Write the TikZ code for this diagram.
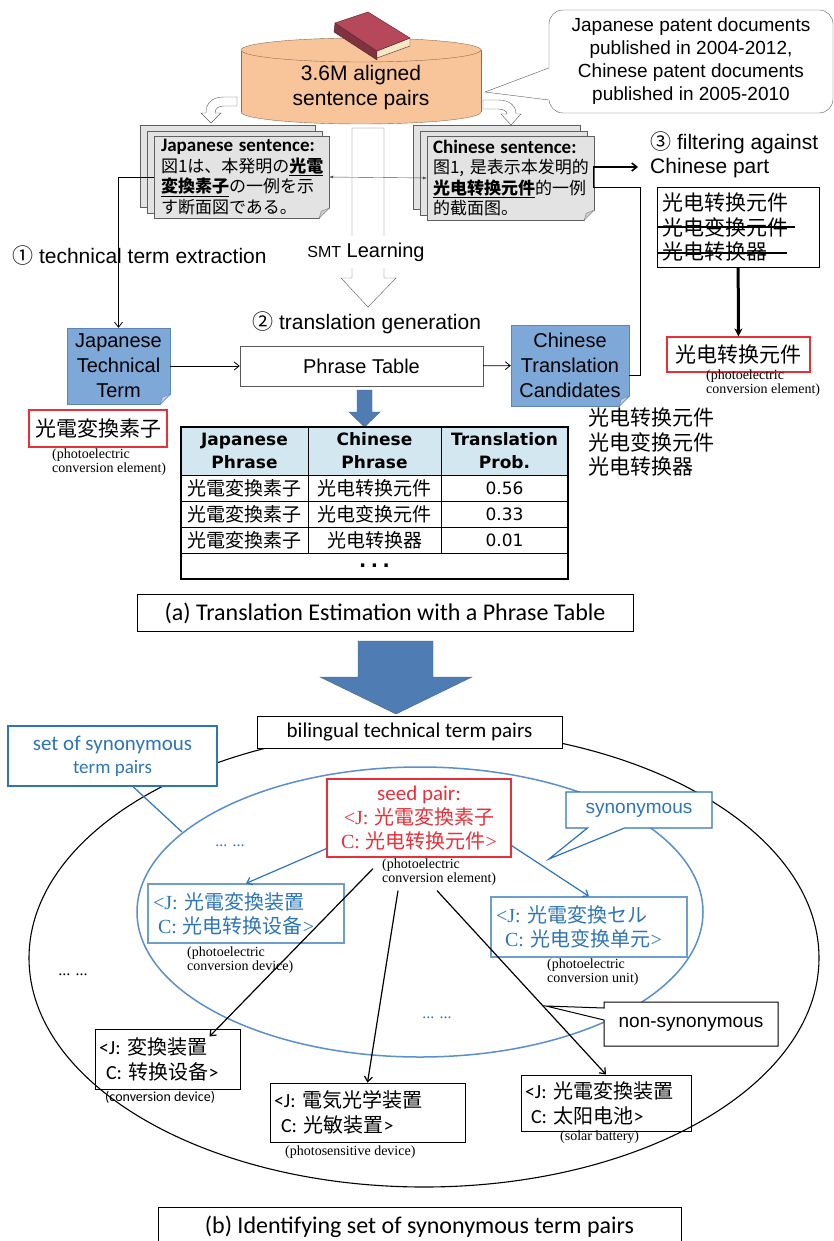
\documentclass[tikz,border=0pt]{standalone}
\usepackage{fontspec}
\setmainfont{Liberation Sans}
\newfontfamily\calfont{Carlito}
\newfontfamily\verfont{DejaVu Sans}
\newfontfamily\serfont{Liberation Serif}
\newfontfamily\jpfont{Noto Sans CJK JP}
\newfontfamily\scfont{Noto Sans CJK SC}
\usetikzlibrary{arrows.meta,shapes.callouts}
\definecolor{peach}{HTML}{F8C49A}
\definecolor{peachline}{HTML}{8C6E55}
\definecolor{sheetgray}{HTML}{E3E3E3}
\definecolor{termblue}{HTML}{7DA8D8}
\definecolor{termline}{HTML}{5E84B4}
\definecolor{steel}{HTML}{4F7DB3}
\definecolor{headblue}{HTML}{D2E7EF}
\definecolor{seedred}{HTML}{E8303A}
\definecolor{synblue}{HTML}{2E75B6}
\definecolor{ringblue}{HTML}{5B8FCC}
\definecolor{bookred}{HTML}{B5485A}
\definecolor{pagecream}{HTML}{F3E9C4}
\newcommand\fsz[2]{\fontsize{#1}{#2}\selectfont}
% folded corner on the south east of a node
\newcommand\dogear[2]{%
  \fill[white] ([xshift=-10pt,yshift=-1pt]#1.south east) -- ([xshift=1pt,yshift=-1pt]#1.south east)
    -- ([xshift=1pt,yshift=10pt]#1.south east) -- cycle;
  \filldraw[draw=#2,fill=#2!40] ([xshift=-10pt]#1.south east) -- ([yshift=10pt]#1.south east)
    -- ([xshift=-8pt,yshift=7pt]#1.south east) -- cycle;}

\begin{document}
\begin{tikzpicture}[x=1pt,y=-1pt,>={Straight Barb[length=5pt,width=8pt]},
  every node/.style={inner sep=0pt},
  sheetbox/.style={draw=gray!75!black,fill=sheetgray},
  termbox/.style={draw=termline,fill=termblue,align=center,font=\fsz{20}{25}},
  redbox/.style={draw=seedred,line width=1.2pt,fill=white},
  synbox/.style={draw=synblue!70,line width=1.2pt,align=left,text=synblue,font=\fsz{20}{24}},
  pairbox/.style={draw,line width=1pt,align=left,font=\fsz{20}{25}},
  gloss/.style={font=\serfont\fsz{14}{10},align=left,anchor=north west},
  hollow/.style={draw=gray!70!black,fill=white},
  block/.style={fill=steel,draw=steel!80!black},
  link/.style={->,line width=1.2pt}]
  \useasboundingbox (0,0) rectangle (833,1241);

  % corpus cylinder with the book on top
  \filldraw[draw=peachline,fill=peach] (361,112) ellipse[x radius=120,y radius=12];
  \fill[peach] (241,50) rectangle (481,112);
  \draw[peachline] (241,50) -- (241,112) (481,50) -- (481,112);
  \filldraw[draw=peachline,fill=peach] (361,50) ellipse[x radius=120,y radius=12];
  \filldraw[draw=bookred!50!black,fill=bookred!70!black] (335,23) -- (377,51) -- (377,60) -- (334,32) -- cycle;
  \filldraw[draw=bookred!50!black,fill=pagecream] (377,51) -- (410,38) -- (410,46) -- (377,58) -- cycle;
  \filldraw[draw=bookred!50!black,fill=bookred] (335,23) -- (368,12) -- (410,38) -- (377,51) -- cycle;
  \node[font=\fsz{21}{25},align=center] (corpus) at (361,88) {3.6M aligned\\sentence pairs};

  % where the corpus comes from
  \node[draw=gray!70!black,fill=white,rounded corners=14pt,minimum width=284pt,minimum height=103pt,
    align=center,font=\fsz{19}{23}] (pub) at (691,61.5)
    {Japanese patent documents\\published in 2004-2012,\\Chinese patent documents\\published in 2005-2010};
  \coordinate (pubtip) at (485,92);
  \fill[white] ([shift={(2,6.5)}]pub.west) -- (pubtip) -- ([shift={(2,38.5)}]pub.west) -- cycle;
  \draw[gray!70!black] ([shift={(0,6.5)}]pub.west) -- (pubtip) -- ([shift={(0,38.5)}]pub.west);

  % bent hollow arrows down to the two sides
  \draw[hollow] (237,97) -- (224,97) .. controls (212,97) and (206,103) .. (206,113) -- (201,113)
    -- (211,123) -- (221,113) -- (215,113) .. controls (215,108) and (219,106) .. (224,106) -- (237,106) -- cycle;
  \draw[hollow] (483,100) -- (498,100) .. controls (510,100) and (516,106) .. (516,114) -- (521,114)
    -- (511,125) -- (501,114) -- (507,114) .. controls (507,111) and (503,109) .. (498,109) -- (483,109) -- cycle;

  % sentence stacks
  \draw[sheetbox] (140,125) rectangle (315,207);
  \draw[sheetbox] (147,131) rectangle (322,213);
  \node[sheetbox,minimum width=175pt,minimum height=82pt,text width=161pt,align=left,
    font=\jpfont\fsz{17}{20.5}] (jsent) at (241.5,177)
    {{\calfont\bfseries\fsz{19}{20.5}Japanese sentence:}\\
     図1は、本発明の\underline{\textbf{光電}}\\
     \underline{\textbf{変換素子}}の一例を示\\
     す断面図である。};
  \dogear{jsent}{gray}
  \draw[sheetbox] (413,125) rectangle (580,209);
  \draw[sheetbox] (420,131) rectangle (587,215);
  \node[sheetbox,minimum width=167pt,minimum height=84pt,text width=155pt,align=left,
    font=\scfont\fsz{17}{20.5}] (csent) at (510.5,178)
    {{\calfont\bfseries\fsz{19}{20.5}Chinese sentence:}\\
     \mbox{图1, 是表示本发明的}\\
     \underline{\textbf{光电转换元件}}的一例\\
     的截面图。};
  \dogear{csent}{gray}

  % SMT learning
  \draw[hollow] (352,128) -- (384,128) -- (384,278) -- (396,278) -- (368,307) -- (341,278) -- (352,278) -- cycle;
  \node[fill=white,minimum height=32pt,font=\fsz{20}{24}] (smt) at (366,252) {{\fsz{16}{20}SMT} Learning};
  \draw[<->,gray!60!black,>={Latex[length=4pt,width=3pt]}] (jsent.east) -- (csent.west);

  % steps 1 and 2
  \node[anchor=west,font=\fsz{21}{25}] (step1) at (12,256) {{\jpfont ①} technical term extraction};
  \node[termbox,minimum width=103pt,minimum height=76pt] (jtt) at (118.5,366) {Japanese\\Technical\\Term};
  \dogear{jtt}{termline}
  \draw[->,line width=0.8pt] (jsent.west) -| (jtt.north);
  \node[anchor=west,font=\fsz{21}{25}] (step2) at (252,323) {{\jpfont ②} translation generation};
  \node[draw=gray!70!black,fill=white,minimum width=243pt,minimum height=40pt,font=\fsz{20}{24}]
    (ptable) at (361.5,366) {Phrase Table};
  \node[termbox,minimum width=118pt,minimum height=81pt] (ctc) at (570,365.5) {Chinese\\Translation\\Candidates};
  \dogear{ctc}{termline}
  \draw[->,line width=0.8pt] (jtt) -- (ptable);
  \draw[->,line width=0.8pt] (ptable) -- (ctc);

  % step 3
  \node[anchor=west,align=left,font=\fsz{21}{24}] (step3) at (650,155) {{\jpfont ③} filtering against\\Chinese part};
  \coordinate (filtin) at (638,167);
  \draw[line width=0.8pt] ([shift={(0,9.5)}]ctc.east) -| (640,187) -- (593,187) -- (593,167);
  \draw[->,line width=1.6pt] (593,167) -- (filtin);
  \node[draw,line width=1pt,minimum width=162pt,minimum height=79pt,text width=152pt,align=left,
    font=\scfont\fsz{21}{24.5}] (fbox) at (738,227.5) {光电转换元件\\光电变换元件\\光电转换器};
  \draw[line width=1.5pt] (657,227) -- (795,227);
  \draw[line width=1.2pt] (657,253) -- (787,253);
  \node[redbox,minimum width=143pt,minimum height=35pt,font=\scfont\fsz{21}{25}] (cbest) at (738.5,354.5) {光电转换元件};
  \draw[->,line width=3pt,>={Stealth[length=8pt,width=8pt]}] (fbox) -- (cbest);
  \node[gloss] (cbestgl) at (706,370) {(photoelectric\\conversion element)};
  \node[anchor=north west,align=left,font=\scfont\fsz{21}{24.5}] (cands) at (588,408) {光电转换元件\\光电变换元件\\光电转换器};
  \node[redbox,minimum width=138pt,minimum height=37pt,font=\jpfont\fsz{21}{25}] (jbest) at (98,428.5) {光電変換素子};
  \node[gloss] (jbestgl) at (52,449) {(photoelectric\\conversion element)};

  % phrase table
  \fill[block] (357,390) -- (372,390) -- (372,412) -- (380,412) -- (364.5,427) -- (349,412) -- (357,412) -- cycle;
  \fill[headblue] (181,427) rectangle (568,475);
  \foreach \y in {475,501,527,553} \draw (181,\y) -- (568,\y);
  \foreach \x in {308,441} \draw (\x,427) -- (\x,553);
  \draw[line width=2pt] (181,427) rectangle (568,579);
  \node[font=\verfont\bfseries\fsz{17}{23},align=center] (hjp) at (244.5,451) {Japanese\\Phrase};
  \node[font=\verfont\bfseries\fsz{17}{23},align=center] (hzh) at (374.5,451) {Chinese\\Phrase};
  \node[font=\verfont\bfseries\fsz{17}{23},align=center] (hpr) at (504.5,451) {Translation\\Prob.};
  \foreach \zh/\p [count=\i] in {光电转换元件/0.56,光电变换元件/0.33,光电转换器/0.01}{
    \node[font=\jpfont\fsz{19}{22}] at (244.5,462+26*\i) {光電変換素子};
    \node[font=\scfont\fsz{19}{22}] at (374.5,462+26*\i) {\zh};
    \node[font=\verfont\fsz{17}{22}] at (504.5,462+26*\i) {\p};
  }
  \node[font=\verfont\bfseries\fsz{19}{20}] (more) at (374.5,566) {.\hspace{4.5pt}.\hspace{4.5pt}.};
  \node[draw,line width=1pt,minimum width=496pt,minimum height=37pt,font=\calfont\fsz{24}{28}]
    (capa) at (385,613) {(a) Translation Estimation with a Phrase Table};
  \fill[block] (358,641) -- (433,641) -- (433,677) -- (472,677) -- (396,714) -- (320,677) -- (358,677) -- cycle;

  % term pairs and the synonym set
  \draw[line width=1.1pt] (424,958) ellipse[x radius=395,y radius=229];
  \draw[ringblue,line width=1.5pt] (420,912) ellipse[x radius=283,y radius=145];
  \node[draw,line width=1pt,fill=white,minimum width=305pt,minimum height=32pt,font=\calfont\fsz{21}{25}]
    (pairs) at (409.5,732) {bilingual technical term pairs};
  \node[draw=synblue,line width=1.2pt,fill=white,minimum width=209pt,minimum height=60pt,align=center,
    text=synblue,font=\calfont\fsz{21}{23}] (synset) at (112.5,756) {set of synonymous\\{\fsz{19}{23}term pairs}};
  \coordinate (ringpt) at (182,832);
  \draw[synblue,line width=1.2pt] ([xshift=20.5pt]synset.south) -- (ringpt);

  \node[redbox,minimum width=184pt,minimum height=78pt,align=center,text=seedred,font=\fsz{20}{24}] (seed) at (419,818)
    {{\calfont\fsz{21}{24}seed pair:}\\{\serfont <J:} {\jpfont 光電変換素子}\\ {\serfont C:} {\scfont 光电转换元件}{\serfont >}};
  \node[gloss] (seedgl) at (382,859) {(photoelectric\\conversion element)};

  \node[synbox,minimum width=196pt,minimum height=59pt,text width=186pt] (syn1) at (246,913.5)
    {{\serfont <J:} {\jpfont 光電変換装置}\\\hspace*{5pt}{\serfont C:}\hspace{6pt}{\scfont 光电转换设备}{\serfont >}};
  \node[gloss] (syn1gl) at (187,947) {(photoelectric\\conversion device)};
  \node[synbox,minimum width=196pt,minimum height=60pt,text width=186pt] (syn2) at (589,927)
    {{\serfont <J:} {\jpfont 光電変換セル}\\\hspace*{9pt}{\serfont C:} {\scfont 光电变换单元}{\serfont >}};
  \node[gloss] (syn2gl) at (547,959) {(photoelectric\\conversion unit)};
  \draw[link,synblue] ([yshift=9pt]seed.south west) -- (syn1.north);
  \draw[link,synblue] ([yshift=12pt]seed.south east) -- (syn2.north);

  \node[pairbox,minimum width=145pt,minimum height=60pt,text width=137pt] (pair1) at (167.5,1059)
    {{\calfont <J:} {\jpfont 変換装置}\\\hspace*{7pt}{\calfont C:} {\scfont 转换设备}{\calfont >}};
  \node[anchor=north west,font=\calfont\fsz{14}{16}] (pair1gl) at (105,1091) {(conversion device)};
  \node[pairbox,minimum width=195pt,minimum height=59pt,text width=187pt] (pair2) at (367.5,1112.5)
    {{\calfont <J:} {\jpfont 電気光学装置}\\\hspace*{7pt}{\calfont C:} {\scfont 光敏装置}{\calfont >}};
  \node[gloss] (pair2gl) at (285,1146) {(photosensitive device)};
  \node[pairbox,minimum width=170pt,minimum height=56pt,text width=162pt] (pair3) at (606,1103)
    {{\calfont <J:} {\jpfont 光電変換装置}\\\hspace*{6pt}{\calfont C:} {\scfont 太阳电池}{\calfont >}};
  \node[gloss] (pair3gl) at (560,1131) {(solar battery)};
  \draw[link] ([shift={(-46,11)}]seed.south) -- ([shift={(42,8)}]pair1.north);
  \draw[link] ([shift={(-21,33)}]seed.south) -- (pair2.north);
  \draw[link] ([shift={(18,33)}]seed.south) -- (pair3.north);

  \node[rectangle callout,draw=synblue,line width=1.2pt,fill=white,text=synblue,minimum width=146pt,
    minimum height=36pt,callout absolute pointer={(549,859)},callout pointer width=37pt,font=\fsz{19}{23}]
    (synlbl) at (639,810) {synonymous};
  \node[rectangle callout,draw,line width=1pt,fill=white,minimum width=174pt,minimum height=44pt,
    callout absolute pointer={(546,1006)},callout pointer width=12pt,font=\fsz{19}{23}]
    (nonsyn) at (691,1024) {non-synonymous};

  \node[text=synblue,font=\serfont\fsz{16}{16}] (dotsa) at (230,846) {... ...};
  \node[text=synblue,font=\serfont\fsz{16}{16}] (dotsb) at (437,1018) {... ...};
  \node[font=\serfont\fsz{16}{16}] (dotsc) at (73,975) {... ...};

  \node[draw,line width=1pt,fill=white,minimum width=523pt,minimum height=40pt,font=\calfont\fsz{24}{28}]
    (capb) at (419.5,1227) {(b) Identifying set of synonymous term pairs};
\end{tikzpicture}
\end{document}
